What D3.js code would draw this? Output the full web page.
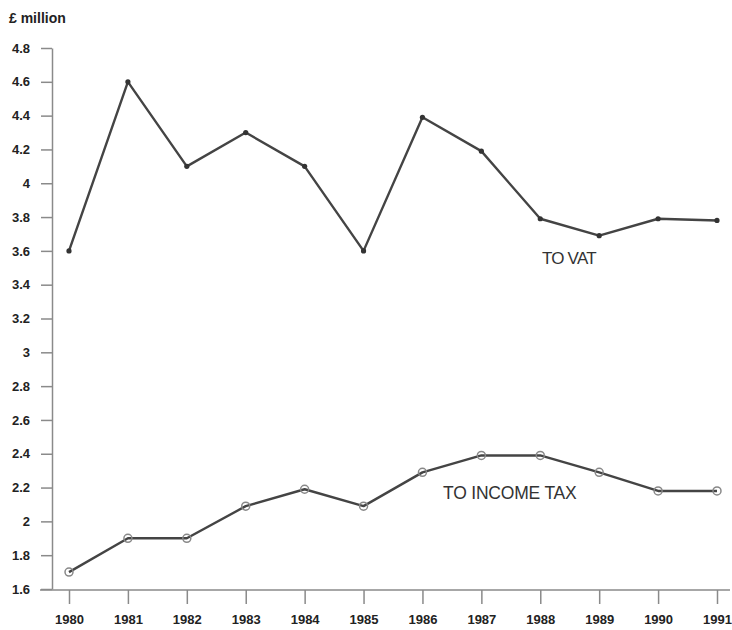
<!DOCTYPE html>
<html lang="en">
  <head>
    <meta charset="UTF-8" />
    <title>VAT and income tax</title>
    <script src="https://cdn.jsdelivr.net/npm/d3@7"></script>
    <style>
      body {
        margin: 0;
        background: #fff;
      }
      text {
        font-family: "Liberation Sans", Arial, sans-serif;
      }
    </style>
  </head>
  <body>
    <script>
      const years = [1980, 1981, 1982, 1983, 1984, 1985, 1986, 1987, 1988, 1989, 1990, 1991];
      const vat = [3.6, 4.6, 4.1, 4.3, 4.1, 3.6, 4.39, 4.19, 3.79, 3.69, 3.79, 3.78];
      const incomeTax = [1.7, 1.9, 1.9, 2.09, 2.19, 2.09, 2.29, 2.39, 2.39, 2.29, 2.18, 2.18];
      const yTicks = [1.6, 1.8, 2, 2.2, 2.4, 2.6, 2.8, 3, 3.2, 3.4, 3.6, 3.8, 4, 4.2, 4.4, 4.6, 4.8];

      const width = 732;
      const height = 630;

      const svg = d3
        .select("body")
        .append("svg")
        .attr("width", width)
        .attr("height", height);

      const x = d3.scalePoint().domain(years).range([69, 717]);
      const y = d3.scaleLinear().domain([1.6, 4.8]).range([589, 48]);

      // y axis
      const yAxis = svg
        .append("g")
        .attr("transform", "translate(52,0)")
        .call(
          d3
            .axisLeft(y)
            .tickValues(yTicks)
            .tickFormat((d) => d3.format("")(+d.toFixed(1)))
            .tickSize(11)
            .tickSizeOuter(0)
            .tickPadding(11)
        );
      yAxis.select(".domain").attr("stroke", "#8a8a8a").attr("stroke-width", 1.5);
      yAxis.selectAll(".tick line").attr("stroke", "#8a8a8a").attr("stroke-width", 1.5);
      yAxis
        .selectAll(".tick text")
        .attr("fill", "#222")
        .style("font-size", "13px")
        .style("font-weight", "bold");

      // x axis
      const xAxis = svg
        .append("g")
        .attr("transform", "translate(0,590)")
        .call(d3.axisBottom(x).tickSize(14).tickSizeOuter(0).tickPadding(11));
      xAxis.select(".domain").attr("d", "M40,0H730").attr("stroke", "#8a8a8a").attr("stroke-width", 1.5);
      xAxis.selectAll(".tick line").attr("stroke", "#8a8a8a").attr("stroke-width", 1.5);
      xAxis
        .selectAll(".tick text")
        .attr("fill", "#222")
        .style("font-size", "13px")
        .style("font-weight", "bold");

      svg
        .append("text")
        .attr("x", 9)
        .attr("y", 23)
        .attr("fill", "#222")
        .style("font-size", "14px")
        .style("font-weight", "bold")
        .text("£ million");

      const line = d3
        .line()
        .x((d, i) => x(years[i]))
        .y((d) => y(d));

      // VAT series
      svg
        .append("path")
        .datum(vat)
        .attr("d", line)
        .attr("fill", "none")
        .attr("stroke", "#444")
        .attr("stroke-width", 2.4)
        .attr("stroke-linejoin", "round");
      svg
        .selectAll(".vat-pt")
        .data(vat)
        .join("circle")
        .attr("class", "vat-pt")
        .attr("cx", (d, i) => x(years[i]))
        .attr("cy", (d) => y(d))
        .attr("r", 2.6)
        .attr("fill", "#333");

      // income tax series
      svg
        .append("path")
        .datum(incomeTax)
        .attr("d", line)
        .attr("fill", "none")
        .attr("stroke", "#444")
        .attr("stroke-width", 2.4)
        .attr("stroke-linejoin", "round");
      svg
        .selectAll(".it-pt")
        .data(incomeTax)
        .join("circle")
        .attr("class", "it-pt")
        .attr("cx", (d, i) => x(years[i]))
        .attr("cy", (d) => y(d))
        .attr("r", 4)
        .attr("fill", "none")
        .attr("stroke", "#888")
        .attr("stroke-width", 1.5);

      svg
        .append("text")
        .attr("x", 542)
        .attr("y", 264)
        .attr("fill", "#333")
        .style("font-size", "17px")
        .style("letter-spacing", "-0.8px")
        .text("TO VAT");

      svg
        .append("text")
        .attr("x", 443)
        .attr("y", 499)
        .attr("fill", "#333")
        .style("font-size", "17.5px")
        .style("letter-spacing", "-0.2px")
        .text("TO INCOME TAX");
    </script>
  </body>
</html>
